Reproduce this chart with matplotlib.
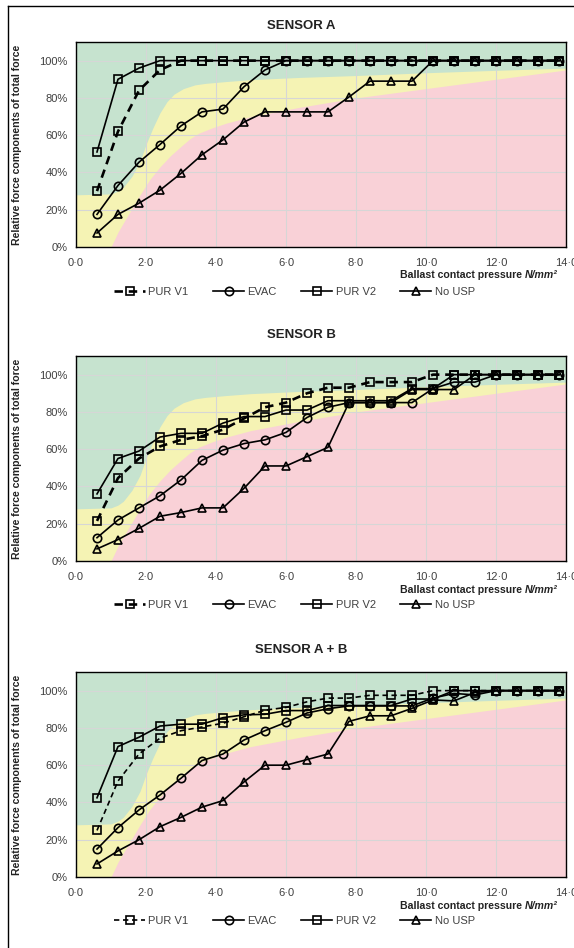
import matplotlib
matplotlib.use("Agg")
import matplotlib.pyplot as plt
from matplotlib.lines import Line2D
from matplotlib.ticker import FixedLocator, FuncFormatter

plt.rcParams['font.family'] = ['Liberation Sans', 'DejaVu Sans']

# ---------------- data ----------------
PRESSURE = [0.6, 1.2, 1.8, 2.4, 3.0, 3.6, 4.2, 4.8, 5.4, 6.0, 6.6, 7.2,
            7.8, 8.4, 9.0, 9.6, 10.2, 10.8, 11.4, 12.0, 12.6, 13.2, 13.8]

SERIES_NAMES = ["PUR V1", "EVAC", "PUR V2", "No USP"]
PANEL_TITLES = ["SENSOR A", "SENSOR B", "SENSOR A + B"]

a_pur_v1 = [30, 62, 84, 95, 100, 100, 100, 100, 100, 100, 100, 100,
            100, 100, 100, 100, 100, 100, 100, 100, 100, 100, 100]
a_evac = [17.5, 33, 45.5, 55, 65, 72.5, 74, 86, 95, 100, 100, 100,
          100, 100, 100, 100, 100, 100, 100, 100, 100, 100, 100]
a_pur_v2 = [51, 90, 96, 100, 100, 100, 100, 100, 100, 100, 100, 100,
            100, 100, 100, 100, 100, 100, 100, 100, 100, 100, 100]
a_no_usp = [7.5, 17.5, 23.5, 30.5, 39.5, 49.5, 57.5, 67, 72.5, 72.5, 72.5, 72.5,
            80.5, 89, 89, 89, 100, 100, 100, 100, 100, 100, 100]

b_pur_v1 = [21.5, 44.5, 55, 61.5, 65, 67, 70.5, 76.5, 82.5, 85, 90, 93,
            93, 96, 96, 96, 100, 100, 100, 100, 100, 100, 100]
b_evac = [12.5, 22, 28.5, 35, 43.5, 54, 59.5, 63, 65, 69, 77, 82.5,
          85, 85, 85, 85, 92.5, 96, 96, 100, 100, 100, 100]
b_pur_v2 = [36, 55, 59, 66.5, 68.5, 68.5, 74, 77.5, 77.5, 81, 81, 86,
            86, 86, 86, 92.5, 92.5, 100, 100, 100, 100, 100, 100]
b_no_usp = [6.5, 11.5, 17.5, 24, 26, 28.5, 28.5, 39, 51, 51, 56, 61,
            85, 85, 85, 92, 92, 92, 100, 100, 100, 100, 100]

ab_pur_v1 = [25, 51.5, 66, 74.5, 78.5, 80.5, 82.5, 86, 89.5, 91, 94, 96,
             96, 97.5, 97.5, 97.5, 100, 100, 100, 100, 100, 100, 100]
ab_evac = [15, 26.5, 36, 44, 53, 62.5, 66, 73.5, 78.5, 83, 88, 90.3,
           91.8, 91.8, 91.8, 91.8, 96, 98.5, 97.7, 100, 100, 100, 100]
ab_pur_v2 = [42.5, 70, 75, 81, 82, 82, 85.5, 87, 87.3, 89.3, 89.3, 92,
             92, 92, 92, 95.5, 95.5, 100, 100, 100, 100, 100, 100]
ab_no_usp = [7, 14, 20, 27, 32, 37.5, 41, 51, 60, 60, 63, 66,
             83.5, 86.5, 86.5, 90.5, 95, 94.5, 99, 100, 100, 100, 100]

PANELS = [
    [a_pur_v1, a_evac, a_pur_v2, a_no_usp],
    [b_pur_v1, b_evac, b_pur_v2, b_no_usp],
    [ab_pur_v1, ab_evac, ab_pur_v2, ab_no_usp],
]

# background zone boundaries (percent)
UPPER_X = [0, 1.0, 1.2, 1.35, 1.6, 1.83, 2.0, 2.2, 2.4, 2.6, 2.8, 3.07, 3.4, 3.7,
           4.3, 5.0, 6.4, 8.0, 10.0, 12.0, 14.0]
UPPER_Y = [28, 28.5, 30, 32, 38, 46, 55, 64, 72, 78, 82, 85, 87, 87.8,
           88.8, 89.8, 91, 92, 93.5, 94.8, 96]
LOWER_X = [0, 1.0, 1.2, 1.45, 1.83, 2.1, 2.4, 2.7, 3.0, 3.25, 3.5, 3.9, 4.3,
           5.0, 6.4, 8.0, 10.0, 12.0, 14.0]
LOWER_Y = [0, 0, 8, 16, 28, 36, 43, 49, 54, 58, 61, 64, 66.5,
           70, 75, 80, 85, 90, 95]

GREEN = "#c6e3cf"
YELLOW = "#f5f3b4"
PINK = "#f9d1d7"
TXT = "#404040"

W, H = 574, 948
fig = plt.figure(figsize=(W / 100, H / 100), dpi=100)

ax_left = 76 / W
ax_w = (566 - 76) / W
ax_h = 205 / H
bottoms_px = [247, 561, 877]
title_px = [26, 335, 650]
xlabel_px = [275, 590, 906]
legend_px = [292, 605, 921]
dashed_lw = [1.9, 1.9, 1.2]

styles = [
    dict(linestyle=(0, (3.2, 2.2)), marker='s', ms=5.2),
    dict(linestyle='-', marker='o', ms=6.0),
    dict(linestyle='-', marker='s', ms=5.2),
    dict(linestyle='-', marker='^', ms=5.6),
]

xfmt = FuncFormatter(lambda v, p: f"{v:.1f}".replace('.', '\u00b7'))
yfmt = FuncFormatter(lambda v, p: f"{v:.0f}%")

for i, series in enumerate(PANELS):
    b = (H - bottoms_px[i]) / H
    ax = fig.add_axes([ax_left, b, ax_w, ax_h])
    ax.set_xlim(0, 14)
    ax.set_ylim(0, 110)
    ax.fill_between([0, 14], [0, 0], [110, 110], color=GREEN, lw=0, zorder=0.1)
    ax.fill_between(UPPER_X, 0, UPPER_Y, color=YELLOW, lw=0, zorder=0.2)
    ax.fill_between(LOWER_X, 0, LOWER_Y, color=PINK, lw=0, zorder=0.3)
    ax.set_axisbelow(True)
    ax.grid(True, color="#d6d6d6", lw=0.8)
    ax.xaxis.set_major_locator(FixedLocator([0, 2, 4, 6, 8, 10, 12, 14]))
    ax.yaxis.set_major_locator(FixedLocator([0, 20, 40, 60, 80, 100]))
    ax.xaxis.set_major_formatter(xfmt)
    ax.yaxis.set_major_formatter(yfmt)
    ax.tick_params(length=0, labelsize=8, labelcolor=TXT)
    ax.tick_params(axis='x', pad=8)
    ax.tick_params(axis='y', pad=6)
    for s in ax.spines.values():
        s.set_color('black')
        s.set_linewidth(1.0)
    handles = []
    for j, vals in enumerate(series):
        st = dict(styles[j])
        lw = dashed_lw[i] if j == 0 else 1.2
        h, = ax.plot(PRESSURE, vals, color='black', lw=lw, mfc='none',
                     mec='black', mew=1.2, label=SERIES_NAMES[j],
                     zorder=3, clip_on=False, **st)
        handles.append(h)
    ax.set_ylabel("Relative force components of total force", fontsize=7.6,
                  fontweight='bold', color='#222222')
    ax.yaxis.set_label_coords((22 - 76) / 490, 0.5)
    fig.text(301 / W, 1 - title_px[i] / H, PANEL_TITLES[i], ha='center', va='center',
             fontsize=9.5, fontweight='bold', color='#222222')
    it = fig.text(558 / W, 1 - xlabel_px[i] / H, "N/mm\u00b2", ha='right', va='center',
                  fontsize=7.6, fontweight='bold', style='italic', color='#222222')
    fig.canvas.draw()
    bb = it.get_window_extent()
    fig.text(bb.x0 / W, 1 - xlabel_px[i] / H, "Ballast contact pressure ", ha='right',
             va='center', fontsize=7.6, fontweight='bold', color='#222222')
    ax.legend(handles=handles, loc='center', bbox_to_anchor=(0.513, 1 - legend_px[i] / H),
              bbox_transform=fig.transFigure, ncol=4, frameon=False, fontsize=8,
              labelcolor=TXT, handlelength=2.8, columnspacing=2.2, handletextpad=0.3,
              borderpad=0)

# figure frame (top and left edges)
fig.add_artist(Line2D([8 / W, 1.0], [1 - 6 / H, 1 - 6 / H], color='black', lw=1.0,
                      transform=fig.transFigure))
fig.add_artist(Line2D([8 / W, 8 / W], [0, 1 - 6 / H], color='black', lw=1.0,
                      transform=fig.transFigure))

fig.savefig("out.png", dpi=100)
